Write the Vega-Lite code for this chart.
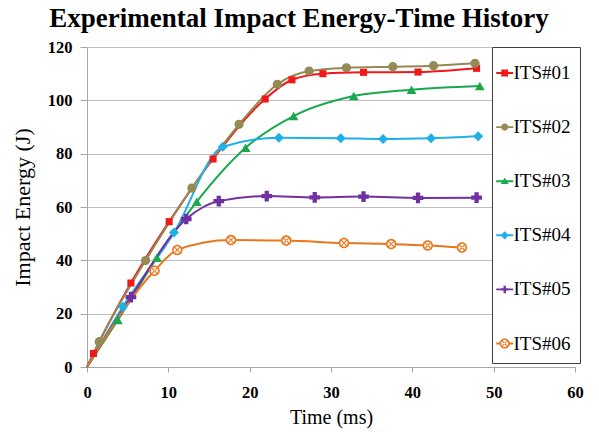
{
  "$schema": "https://vega.github.io/schema/vega-lite/v6.json",
  "width": 488,
  "height": 320,
  "autosize": {"type": "none"},
  "padding": {"left": 87, "top": 47, "right": 24, "bottom": 65},
  "background": "white",
  "title": {
    "text": "Experimental Impact Energy-Time History",
    "font": "Liberation Serif",
    "fontSize": 27,
    "fontWeight": "bold",
    "color": "black",
    "anchor": "middle",
    "dx": -32,
    "offset": 6
  },
  "data": {
    "values": [
      {"Series": "ITS#01", "Time": 0, "Energy": 0},
      {"Series": "ITS#01", "Time": 0.8, "Energy": 5.1},
      {"Series": "ITS#01", "Time": 5.4, "Energy": 31.5},
      {"Series": "ITS#01", "Time": 10.1, "Energy": 54.5},
      {"Series": "ITS#01", "Time": 15.5, "Energy": 78.0},
      {"Series": "ITS#01", "Time": 21.9, "Energy": 100.5},
      {"Series": "ITS#01", "Time": 25.2, "Energy": 107.7},
      {"Series": "ITS#01", "Time": 29.0, "Energy": 110.0},
      {"Series": "ITS#01", "Time": 34.0, "Energy": 110.5},
      {"Series": "ITS#01", "Time": 40.7, "Energy": 110.6},
      {"Series": "ITS#01", "Time": 47.9, "Energy": 112.0},
      {"Series": "ITS#02", "Time": 0, "Energy": 0},
      {"Series": "ITS#02", "Time": 1.5, "Energy": 9.5},
      {"Series": "ITS#02", "Time": 7.2, "Energy": 39.9},
      {"Series": "ITS#02", "Time": 12.9, "Energy": 67.1},
      {"Series": "ITS#02", "Time": 18.7, "Energy": 91.0},
      {"Series": "ITS#02", "Time": 23.4, "Energy": 106.0},
      {"Series": "ITS#02", "Time": 27.3, "Energy": 111.0},
      {"Series": "ITS#02", "Time": 31.9, "Energy": 112.2},
      {"Series": "ITS#02", "Time": 37.6, "Energy": 112.6},
      {"Series": "ITS#02", "Time": 42.6, "Energy": 113.0},
      {"Series": "ITS#02", "Time": 47.7, "Energy": 113.9},
      {"Series": "ITS#03", "Time": 0, "Energy": 0},
      {"Series": "ITS#03", "Time": 3.8, "Energy": 17.6},
      {"Series": "ITS#03", "Time": 8.6, "Energy": 41.0},
      {"Series": "ITS#03", "Time": 13.5, "Energy": 62.0},
      {"Series": "ITS#03", "Time": 19.5, "Energy": 82.2},
      {"Series": "ITS#03", "Time": 25.4, "Energy": 94.1},
      {"Series": "ITS#03", "Time": 32.8, "Energy": 101.6},
      {"Series": "ITS#03", "Time": 39.9, "Energy": 104.0},
      {"Series": "ITS#03", "Time": 48.3, "Energy": 105.4},
      {"Series": "ITS#04", "Time": 0, "Energy": 0},
      {"Series": "ITS#04", "Time": 4.4, "Energy": 22.6},
      {"Series": "ITS#04", "Time": 10.7, "Energy": 50.4},
      {"Series": "ITS#04", "Time": 16.7, "Energy": 82.6},
      {"Series": "ITS#04", "Time": 23.6, "Energy": 86.0},
      {"Series": "ITS#04", "Time": 31.2, "Energy": 85.8},
      {"Series": "ITS#04", "Time": 36.4, "Energy": 85.5},
      {"Series": "ITS#04", "Time": 42.3, "Energy": 85.8},
      {"Series": "ITS#04", "Time": 48.1, "Energy": 86.5},
      {"Series": "ITS#05", "Time": 0, "Energy": 0},
      {"Series": "ITS#05", "Time": 5.4, "Energy": 26.2},
      {"Series": "ITS#05", "Time": 12.2, "Energy": 55.5},
      {"Series": "ITS#05", "Time": 16.2, "Energy": 62.2},
      {"Series": "ITS#05", "Time": 22.1, "Energy": 64.1},
      {"Series": "ITS#05", "Time": 28.0, "Energy": 63.6},
      {"Series": "ITS#05", "Time": 34.0, "Energy": 63.9},
      {"Series": "ITS#05", "Time": 40.7, "Energy": 63.4},
      {"Series": "ITS#05", "Time": 47.9, "Energy": 63.5},
      {"Series": "ITS#06", "Time": 0, "Energy": 0},
      {"Series": "ITS#06", "Time": 8.3, "Energy": 36.1},
      {"Series": "ITS#06", "Time": 11.1, "Energy": 43.9},
      {"Series": "ITS#06", "Time": 17.7, "Energy": 47.6},
      {"Series": "ITS#06", "Time": 24.5, "Energy": 47.4},
      {"Series": "ITS#06", "Time": 31.6, "Energy": 46.5},
      {"Series": "ITS#06", "Time": 37.4, "Energy": 46.1},
      {"Series": "ITS#06", "Time": 41.9, "Energy": 45.6},
      {"Series": "ITS#06", "Time": 46.1, "Energy": 44.8}
    ]
  },
  "encoding": {
    "x": {
      "field": "Time",
      "type": "quantitative",
      "scale": {"domain": [0, 60], "nice": false},
      "axis": {
        "title": "Time (ms)",
        "values": [0, 10, 20, 30, 40, 50, 60],
        "grid": false,
        "labelFlush": false,
        "tickSize": 5,
        "tickColor": "#A6A6A6",
        "domainColor": "#A6A6A6",
        "labelFont": "Liberation Serif",
        "labelFontSize": 16.5,
        "labelFontWeight": "bold",
        "labelColor": "black",
        "labelPadding": 12,
        "titleFont": "Liberation Serif",
        "titleFontSize": 20,
        "titleFontWeight": "normal",
        "titleColor": "black",
        "titlePadding": 7
      }
    },
    "y": {
      "field": "Energy",
      "type": "quantitative",
      "scale": {"domain": [0, 120], "nice": false},
      "axis": {
        "title": "Impact Energy (J)",
        "values": [0, 20, 40, 60, 80, 100, 120],
        "grid": true,
        "gridColor": "#BFBFBF",
        "labelFlush": false,
        "tickSize": 7,
        "tickColor": "#A6A6A6",
        "domainColor": "#A6A6A6",
        "labelFont": "Liberation Serif",
        "labelFontSize": 16.5,
        "labelFontWeight": "bold",
        "labelColor": "black",
        "labelPadding": 8,
        "titleFont": "Liberation Serif",
        "titleFontSize": 22,
        "titleFontWeight": "normal",
        "titleColor": "black",
        "titlePadding": 13
      }
    },
    "color": {
      "field": "Series",
      "type": "nominal",
      "scale": {
        "domain": ["ITS#01", "ITS#02", "ITS#03", "ITS#04", "ITS#05", "ITS#06"],
        "range": ["#F01818", "#948A54", "#1AA84C", "#1EB0EA", "#7030A0", "#E8761C"]
      },
      "legend": {
        "orient": "none",
        "legendX": 405,
        "legendY": 0,
        "title": null,
        "encoding": {
          "symbols": {
            "fill": {"value": {"expr": "scale('color', datum.value)"}},
            "stroke": {"value": "transparent"},
            "opacity": {"value": 1},
            "shape": {
              "value": {
                "expr": "datum.value === 'ITS#01' ? 'M-0.5,-0.055H0.5V0.055H-0.5Z M-0.2,-0.2H0.2V0.2H-0.2Z' : datum.value === 'ITS#02' ? 'M-0.5,-0.055H0.5V0.055H-0.5Z M0.21,0A0.21,0.21,0,1,1,-0.21,0A0.21,0.21,0,1,1,0.21,0Z' : datum.value === 'ITS#03' ? 'M-0.5,-0.055H0.5V0.055H-0.5Z M0,-0.22L0.23,0.17H-0.23Z' : datum.value === 'ITS#04' ? 'M-0.5,-0.055H0.5V0.055H-0.5Z M0,-0.24L0.24,0L0,0.24L-0.24,0Z' : datum.value === 'ITS#05' ? 'M-0.5,-0.055H0.5V0.055H-0.5Z M-0.07,-0.22H0.07V-0.07H0.22V0.07H0.07V0.22H-0.07V0.07H-0.22V-0.07H-0.07Z' : 'M-0.5,-0.055H-0.29V0.055H-0.5Z M0.29,-0.055H0.5V0.055H0.29Z M0.3,0A0.3,0.3,0,1,1,-0.3,0A0.3,0.3,0,1,1,0.3,0Z M0.21,0A0.21,0.21,0,1,0,-0.21,0A0.21,0.21,0,1,0,0.21,0Z M-0.12,-0.16L0.16,0.12L0.12,0.16L-0.16,-0.12Z M0.12,-0.16L-0.16,0.12L-0.12,0.16L0.16,-0.12Z'"
              }
            }
          }
        }
      }
    }
  },
  "layer": [
    {
      "mark": {"type": "line", "interpolate": "monotone", "strokeWidth": 2}
    },
    {
      "transform": [{"filter": "datum.Series === 'ITS#06' && datum.Time > 0"}],
      "mark": {"type": "point", "filled": true, "shape": "circle", "size": 100, "opacity": 1},
      "encoding": {"color": {"value": "#FFF4EA"}}
    },
    {
      "transform": [{"filter": "datum.Time > 0"}],
      "mark": {"type": "point", "filled": true, "opacity": 1},
      "encoding": {
        "shape": {
          "field": "Series",
          "type": "nominal",
          "scale": {
            "domain": ["ITS#06", "ITS#05", "ITS#04", "ITS#03", "ITS#02", "ITS#01"],
            "range": ["M1,0A1,1,0,1,1,-1,0A1,1,0,1,1,1,0Z M0.7,0A0.7,0.7,0,1,0,-0.7,0A0.7,0.7,0,1,0,0.7,0Z M-0.42,-0.56L0.56,0.42L0.42,0.56L-0.56,-0.42Z M0.42,-0.56L-0.56,0.42L-0.42,0.56L0.56,-0.42Z", "cross", "diamond", "triangle-up", "circle", "square"]
          },
          "legend": null
        },
        "size": {
          "field": "Series",
          "type": "nominal",
          "scale": {
            "type": "ordinal",
            "domain": ["ITS#06", "ITS#01", "ITS#02", "ITS#03", "ITS#04", "ITS#05"],
            "range": [110, 50, 85, 95, 100, 115]
          },
          "legend": null
        }
      }
    }
  ],
  "config": {
    "view": {"stroke": null},
    "legend": {
      "orient": "none",
      "legendX": 405,
      "legendY": 0,
      "fillColor": "white",
      "strokeColor": "#404040",
      "padding": 9,
      "labelFont": "Liberation Serif",
      "labelFontSize": 19,
      "labelColor": "black",
      "labelOffset": -8.2,
      "symbolOffset": -13.3,
      "rowPadding": 27.1,
      "symbolSize": 1156,
      "symbolStrokeWidth": 0,
      "symbolOpacity": 1
    }
  }
}
